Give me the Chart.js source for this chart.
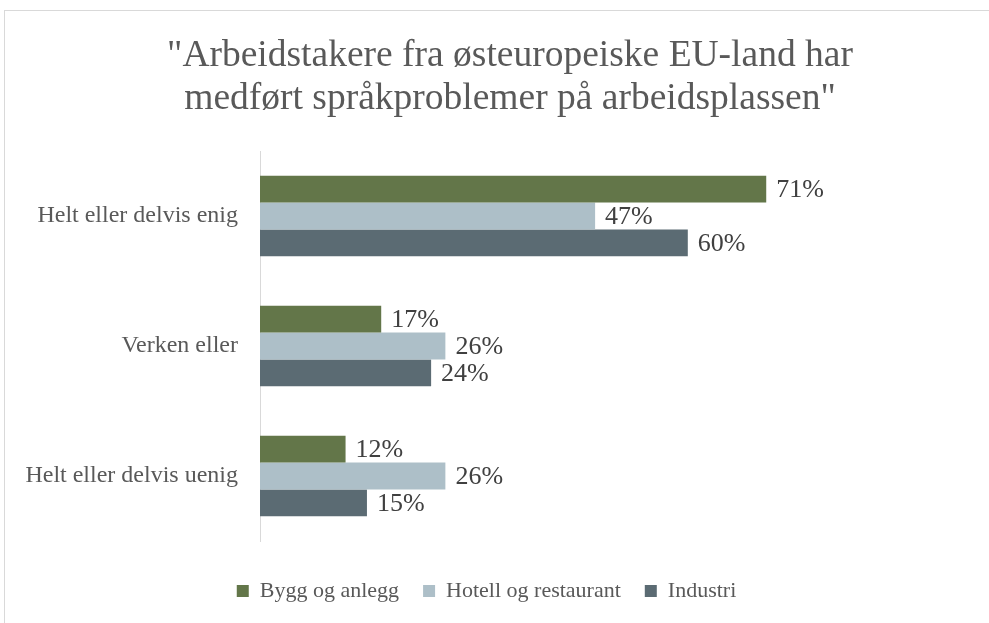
<!DOCTYPE html>
<html>
<head>
<meta charset="utf-8">
<script src="https://cdn.jsdelivr.net/npm/chart.js@4"></script>
<style>
  html, body { margin: 0; padding: 0; background: #fff; }
  #wrap { position: relative; width: 989px; height: 623px; overflow: hidden; }
  #frame { position: absolute; left: 4px; top: 10px; width: 1000px; height: 700px;
           border-left: 1px solid #d9d9d9; border-top: 1px solid #d9d9d9; }
  canvas { position: absolute; left: 0; top: 0; }
</style>
</head>
<body>
<div id="wrap">
  <div id="frame"></div>
  <canvas id="barchart" width="989" height="623"></canvas>
</div>
<script>
const titleLines = ["\"Arbeidstakere fra østeuropeiske EU-land har", "medført språkproblemer på arbeidsplassen\""];
const categories = ["Helt eller delvis enig", "Verken eller", "Helt eller delvis uenig"];
const seriesNames = ["Bygg og anlegg", "Hotell og restaurant", "Industri"];
const byggValues = [71, 17, 12];
const hotellValues = [47, 26, 26];
const industriValues = [60, 24, 15];
const colors = ["#637649", "#adbfc8", "#5b6b73"];
const serif = "'Liberation Serif', 'Times New Roman', serif";

// title drawn by hand so it can sit a bit right of centre like the original
const chartTitle = {
  id: "chartTitle",
  afterDraw(chart) {
    const ctx = chart.ctx;
    ctx.save();
    ctx.font = "37.5px " + serif;
    ctx.fillStyle = "#595959";
    ctx.textAlign = "center";
    ctx.textBaseline = "alphabetic";
    ctx.fillText(titleLines[0], 510, 66);
    ctx.fillText(titleLines[1], 510, 109);
    ctx.restore();
  },
};

const valueLabels = {
  id: "valueLabels",
  afterDatasetsDraw(chart) {
    const ctx = chart.ctx;
    ctx.save();
    ctx.font = "26px " + serif;
    ctx.fillStyle = "#404040";
    ctx.textAlign = "left";
    ctx.textBaseline = "middle";
    chart.data.datasets.forEach((ds, i) => {
      chart.getDatasetMeta(i).data.forEach((bar, j) => {
        ctx.fillText(ds.data[j] + "%", bar.x + 10, bar.y + 1);
      });
    });
    ctx.restore();
  },
};

const ctx = document.getElementById("barchart").getContext("2d");
const barchart = new Chart(ctx, {
  type: "bar",
  data: {
    labels: categories,
    datasets: [
      { label: seriesNames[0], data: byggValues, backgroundColor: colors[0] },
      { label: seriesNames[1], data: hotellValues, backgroundColor: colors[1] },
      { label: seriesNames[2], data: industriValues, backgroundColor: colors[2] },
    ],
  },
  options: {
    indexAxis: "y",
    responsive: false,
    animation: false,
    layout: { padding: { left: 0, right: 16, top: 151, bottom: 11 } },
    datasets: { bar: { barPercentage: 1, categoryPercentage: 0.62 } },
    scales: {
      x: {
        min: 0,
        max: 100,
        grid: { display: false, drawTicks: false },
        border: { display: false },
        ticks: { display: false },
        afterFit(scale) { scale.height = 15; },
      },
      y: {
        grid: { display: false, drawTicks: false },
        border: { color: "#d9d9d9", width: 1 },
        ticks: {
          color: "#595959",
          padding: 22,
          font: { family: serif, size: 24 },
        },
        afterFit(scale) { scale.width = 260; },
      },
    },
    plugins: {
      title: { display: false },
      legend: {
        position: "bottom",
        labels: {
          color: "#595959",
          boxWidth: 12,
          boxHeight: 12,
          padding: 24,
          font: { family: serif, size: 22 },
        },
      },
      tooltip: { enabled: false },
    },
  },
  plugins: [valueLabels, chartTitle],
});
</script>
</body>
</html>
